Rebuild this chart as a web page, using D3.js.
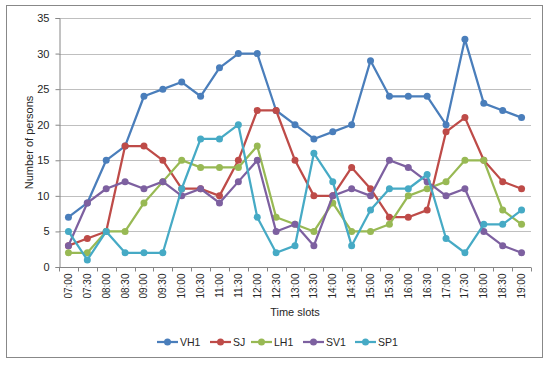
<!DOCTYPE html>
<html>
<head>
<meta charset="utf-8">
<script src="https://cdn.jsdelivr.net/npm/d3@7"></script>
<style>
  body { margin: 0; background: #fff; }
  svg text { font-family: "Liberation Sans", Arial, sans-serif; fill: #262626; }
</style>
</head>
<body>
<svg id="chart" width="550" height="366"></svg>
<script>
const times = ["07:00","07:30","08:00","08:30","09:00","09:30","10:00","10:30","11:00","11:30",
  "12:00","12:30","13:00","13:30","14:00","14:30","15:00","15:30","16:00","16:30",
  "17:00","17:30","18:00","18:30","19:00"];
const seriesNames = ["VH1", "SJ", "LH1", "SV1", "SP1"];
const vh1 = [7,9,15,17,24,25,26,24,28,30,30,22,20,18,19,20,29,24,24,24,20,32,23,22,21];
const sj  = [3,4,5,17,17,15,11,11,10,15,22,22,15,10,10,14,11,7,7,8,19,21,15,12,11];
const lh1 = [2,2,5,5,9,12,15,14,14,14,17,7,6,5,9,5,5,6,10,11,12,15,15,8,6];
const sv1 = [3,9,11,12,11,12,10,11,9,12,15,5,6,3,10,11,10,15,14,12,10,11,5,3,2];
const sp1 = [5,1,5,2,2,2,11,18,18,20,7,2,3,16,12,3,8,11,11,13,4,2,6,6,8];
const yTicks = [0,5,10,15,20,25,30,35];
const colors = ["#4a7ebb", "#be4b48", "#98b954", "#7d60a0", "#46aac5"];

const allSeries = [vh1, sj, lh1, sv1, sp1].map((vals, i) => ({ name: seriesNames[i], vals, color: colors[i] }));

const svg = d3.select("#chart");

// outer frame
svg.append("rect")
  .attr("x", 6.5).attr("y", 5.5).attr("width", 536).attr("height", 352)
  .attr("fill", "#fff").attr("stroke", "#888").attr("stroke-width", 1);

const plotL = 59, plotR = 531, plotT = 18, plotB = 267;

const x = d3.scaleBand().domain(times).range([plotL, plotR]);
const y = d3.scaleLinear().domain([0, 35]).range([plotB, plotT]);

// gridlines
svg.append("g")
  .selectAll("line")
  .data(yTicks.slice(1))
  .join("line")
  .attr("x1", plotL).attr("x2", plotR)
  .attr("y1", d => Math.round(y(d)) + 0.5).attr("y2", d => Math.round(y(d)) + 0.5)
  .attr("stroke", "#bfbfbf");

// y axis
const yAxis = d3.axisLeft(y).tickValues(yTicks).tickSize(4).tickPadding(6);
const gy = svg.append("g").attr("transform", `translate(${plotL + 0.5},0)`).call(yAxis);
gy.select(".domain").attr("stroke", "#868686");
gy.selectAll(".tick line").attr("stroke", "#868686");
gy.selectAll(".tick text").attr("font-size", 11).style("fill", "#262626")
  .style("font-family", "Liberation Sans, Arial, sans-serif");

// x axis: ticks at band boundaries
const gx = svg.append("g").attr("transform", `translate(0,${plotB + 0.5})`);
gx.append("line").attr("x1", plotL).attr("x2", plotR).attr("stroke", "#868686");
gx.selectAll("line.tk")
  .data(d3.range(times.length + 1))
  .join("line")
  .attr("class", "tk")
  .attr("x1", i => Math.round(plotL + i * x.step()) + 0.5)
  .attr("x2", i => Math.round(plotL + i * x.step()) + 0.5)
  .attr("y1", 0).attr("y2", 4)
  .attr("stroke", "#868686");
gx.selectAll("text")
  .data(times)
  .join("text")
  .attr("transform", d => `translate(${x(d) + x.bandwidth() / 2 + 3.5},6) rotate(-90)`)
  .attr("text-anchor", "end")
  .attr("font-size", 10)
  .text(d => d);

// axis titles
svg.append("text")
  .attr("transform", `translate(33,${(plotT + plotB) / 2}) rotate(-90)`)
  .attr("text-anchor", "middle")
  .attr("font-size", 11)
  .text("Number of persons");
svg.append("text")
  .attr("x", (plotL + plotR) / 2).attr("y", 316)
  .attr("text-anchor", "middle")
  .attr("font-size", 11)
  .text("Time slots");

// lines and markers
const line = d3.line()
  .x((d, i) => x(times[i]) + x.bandwidth() / 2)
  .y(d => y(d));

const gs = svg.append("g").selectAll("g")
  .data(allSeries)
  .join("g");
gs.append("path")
  .attr("d", d => line(d.vals))
  .attr("fill", "none")
  .attr("stroke", d => d.color)
  .attr("stroke-width", 2.25)
  .attr("stroke-linejoin", "round");
gs.selectAll("circle")
  .data(d => d.vals.map((v, i) => ({ v, i, color: d.color })))
  .join("circle")
  .attr("cx", d => x(times[d.i]) + x.bandwidth() / 2)
  .attr("cy", d => y(d.v))
  .attr("r", 3.5)
  .attr("fill", d => d.color);

// legend
const legendX = [157, 210, 251, 303, 355];
const lg = svg.append("g").selectAll("g")
  .data(allSeries)
  .join("g")
  .attr("transform", (d, i) => `translate(${legendX[i]},342)`);
lg.append("line")
  .attr("x1", 0).attr("x2", 21)
  .attr("stroke", d => d.color).attr("stroke-width", 2.25);
lg.append("circle").attr("cx", 10.5).attr("r", 3.5).attr("fill", d => d.color);
lg.append("text")
  .attr("x", 23).attr("y", 4)
  .attr("font-size", 10.5)
  .text(d => d.name);
</script>
</body>
</html>
